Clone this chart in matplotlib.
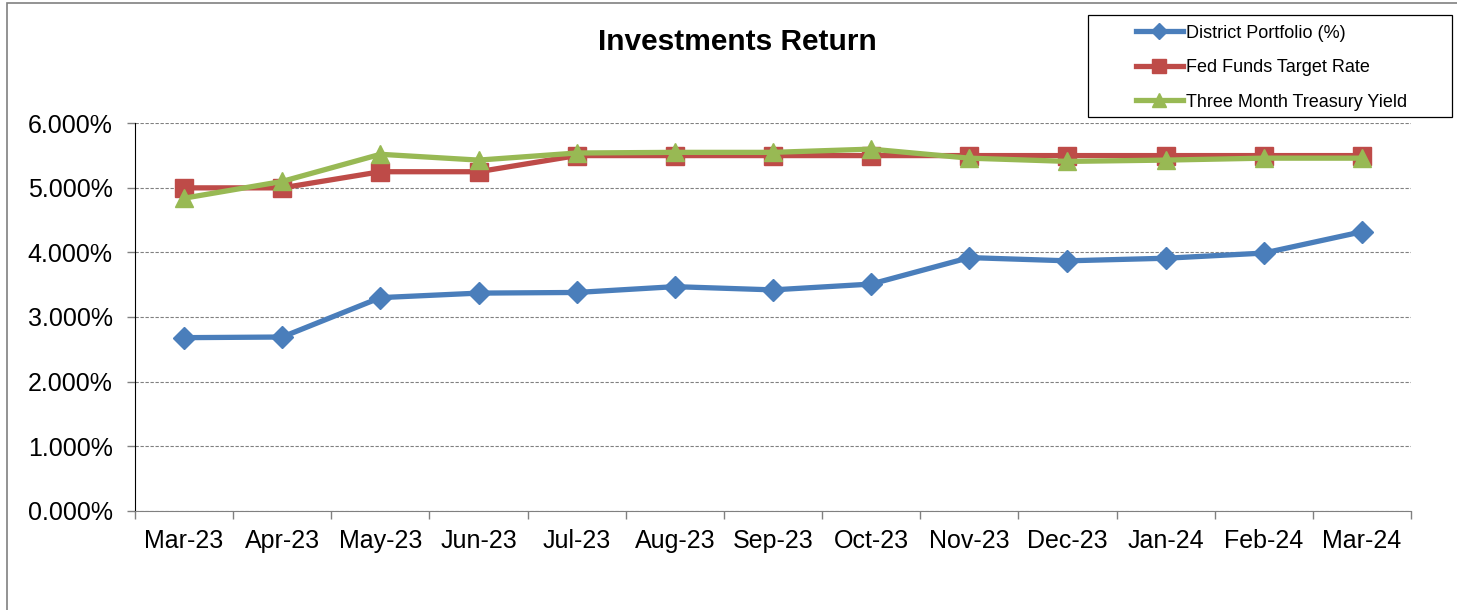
import numpy as np
import matplotlib.pyplot as plt
from matplotlib.patches import Rectangle
from matplotlib.ticker import FuncFormatter

plt.rcParams['font.family'] = ['Liberation Sans', 'DejaVu Sans']

months = ["Mar-23", "Apr-23", "May-23", "Jun-23", "Jul-23", "Aug-23", "Sep-23",
          "Oct-23", "Nov-23", "Dec-23", "Jan-24", "Feb-24", "Mar-24"]
district = [2.68, 2.69, 3.30, 3.37, 3.38, 3.47, 3.42, 3.51, 3.92, 3.87, 3.91, 3.99, 4.32]
fed_funds = [5.00, 5.00, 5.25, 5.25, 5.50, 5.50, 5.50, 5.50, 5.50, 5.50, 5.50, 5.50, 5.50]
treasury = [4.84, 5.10, 5.52, 5.43, 5.54, 5.55, 5.55, 5.60, 5.46, 5.41, 5.43, 5.46, 5.46]

W, H = 1457, 610
fig = plt.figure(figsize=(W / 100, H / 100), dpi=100)
ax = fig.add_axes([135 / W, 1 - 510.7 / H, (1411 - 135) / W, (510.7 - 123.3) / H])

x = np.arange(len(months))
ax.plot(x, district, color='#4A7EBB', lw=3.8, marker='D', ms=11,
        label='District Portfolio (%)', zorder=3)
ax.plot(x, fed_funds, color='#BE4B48', lw=3.8, marker='s', ms=13,
        label='Fed Funds Target Rate', zorder=3)
ax.plot(x, treasury, color='#98B954', lw=3.8, marker='^', ms=13,
        label='Three Month Treasury Yield', zorder=4)

ax.set_xlim(-0.5, len(months) - 0.5)
ax.set_ylim(0, 6)
ax.set_yticks(np.arange(0, 7, 1))
ax.yaxis.set_major_formatter(FuncFormatter(lambda v, p: f"{v:.3f}%"))
ax.grid(axis='y', color='#808080', ls=(0, (3, 1.5)), lw=0.8)
ax.set_axisbelow(True)

ax.set_xticks(x)
ax.set_xticklabels(months)
ax.set_xticks(np.arange(-0.5, len(months), 1), minor=True)
ax.tick_params(axis='x', which='major', length=0, labelsize=18, pad=13)
ax.tick_params(axis='x', which='minor', length=6, width=1, color='#808080')
ax.tick_params(axis='y', length=6, width=1, color='#808080', labelsize=18, pad=10)

for s in ['top', 'right']:
    ax.spines[s].set_visible(False)
ax.spines['bottom'].set_color('#808080')
ax.spines['left'].set_color('black')

fig.text(737 / W, 1 - 42 / H, "Investments Return", ha='center', va='center',
         fontsize=21.5, fontweight='bold')

# chart frame and legend box
fig.patches.append(Rectangle((7 / W, -0.1), 1.2, 1 - 3 / H + 0.1,
                             transform=fig.transFigure, fill=False,
                             edgecolor='#808080', lw=1.2))
fig.patches.append(Rectangle((1088 / W, 1 - 117 / H), (1452 - 1088) / W, 102 / H,
                             transform=fig.transFigure, fill=False,
                             edgecolor='black', lw=0.9))
fig.legend(loc='upper left', bbox_to_anchor=(1123 / W, 1 - 12 / H), frameon=False,
           fontsize=13, handlelength=2.6, handletextpad=0.2, labelspacing=0.97,
           markerscale=0.75, borderpad=0.2)

fig.savefig("out.png", dpi=100)
